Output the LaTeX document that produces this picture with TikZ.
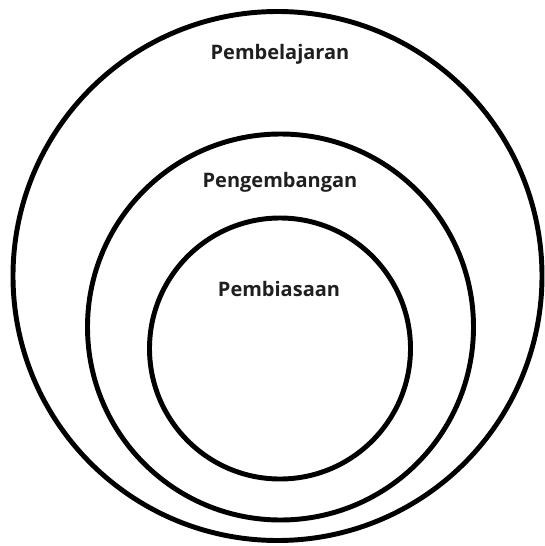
\documentclass[tikz,border=0pt]{standalone}
\usepackage{fontspec}
\setmainfont{Open Sans}
\begin{document}
\begin{tikzpicture}[x=0.75pt,y=-0.75pt,
  ring/.style={line width=3.7pt,draw=black},
  lbl/.style={anchor=base,inner sep=0pt,font=\bfseries\fontsize{15pt}{17pt}\selectfont,text=black!88}]
\useasboundingbox (0,0) rectangle (544,546);
\draw[ring] (277.5,276) circle[radius=264.5*0.75pt];
\draw[ring] (280.5,327) circle[radius=193*0.75pt];
\draw[ring] (280,348.5) circle[radius=130.5*0.75pt];
\node[lbl] (outer) at (280,59) {Pembelajaran};
\node[lbl] (middle) at (280,187) {Pengembangan};
\node[lbl] (inner) at (279,296) {Pembiasaan};
\end{tikzpicture}
\end{document}
